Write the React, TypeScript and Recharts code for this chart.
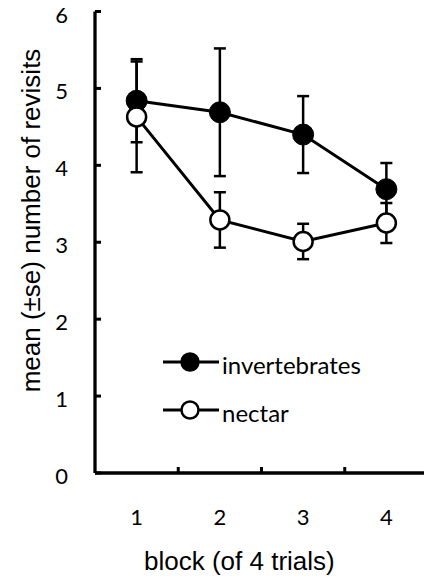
import { LineChart, Line, XAxis, YAxis, ErrorBar, Legend } from 'recharts';

// block number (x) and the two series
const blocks = [1, 2, 3, 4];
const invertebrates = [4.84, 4.69, 4.4, 3.69];
const invertebratesSe = [0.54, 0.83, 0.5, 0.34];
const nectar = [4.63, 3.29, 3.01, 3.25];
const nectarSe = [0.72, 0.36, 0.23, 0.26];

// integer ticks get a label, half ticks get a tick mark between blocks
const xTicks = [1, 1.5, 2, 2.5, 3, 3.5, 4];
const yTicks = [0, 1, 2, 3, 4, 5, 6];

const data = blocks.map((b, i) => ({
  block: b,
  invertebrates: invertebrates[i],
  invertebratesSe: invertebratesSe[i],
  nectar: nectar[i],
  nectarSe: nectarSe[i],
}));

const TICK_FONT = 'Lato, "Open Sans", sans-serif';
const TITLE_FONT = '"Liberation Sans", Arial, sans-serif';

const YTick = (props: any) => {
  const { x, y, payload } = props;
  return (
    <g>
      <line x1={x} x2={x + 6} y1={y} y2={y} stroke="#000" strokeWidth={3} />
      <text x={x - 27} y={y} dy="0.5em" textAnchor="end" fontSize={22} fontFamily={TICK_FONT} fill="#000">
        {payload.value}
      </text>
    </g>
  );
};

const XTick = (props: any) => {
  const { x, y, payload } = props;
  if (Number.isInteger(payload.value)) {
    return (
      <text x={x} y={y + 52} textAnchor="middle" fontSize={22} fontFamily={TICK_FONT} fill="#000">
        {payload.value}
      </text>
    );
  }
  return <line x1={x} x2={x} y1={y} y2={y - 6} stroke="#000" strokeWidth={3} />;
};

const LegendBox = () => {
  const rows = [
    { name: 'invertebrates', fill: '#000' },
    { name: 'nectar', fill: '#fff' },
  ];
  return (
    <svg width={260} height={90} style={{ display: 'block' }}>
      {rows.map((r, i) => {
        const cy = 22 + i * 48;
        return (
          <g key={r.name}>
            <line x1={13} x2={69} y1={cy} y2={cy} stroke="#000" strokeWidth={3} />
            <circle cx={40} cy={cy} r={8.5} fill={r.fill} stroke="#000" strokeWidth={2.5} />
            <text x={72} y={cy + 11.5} fontSize={24} fontFamily={TICK_FONT} fill="#000">
              {r.name}
            </text>
          </g>
        );
      })}
    </svg>
  );
};

export default function App() {
  return (
    <div style={{ position: 'absolute', left: 0, top: 0, width: 424, height: 579, overflow: 'hidden', background: '#fff' }}>
      <LineChart width={432} height={579} data={data} margin={{ top: 11.5, right: 4, bottom: 0, left: 0 }}>
        <XAxis
          dataKey="block"
          type="number"
          domain={[0.5, 4.5]}
          ticks={xTicks}
          allowDataOverflow
          height={106}
          tickSize={0}
          tickMargin={0}
          tickLine={false}
          axisLine={{ stroke: '#000', strokeWidth: 3.3 }}
          tick={<XTick />}
          interval={0}
        />
        <YAxis
          type="number"
          domain={[0, 6]}
          ticks={yTicks}
          width={95}
          tickSize={0}
          tickMargin={0}
          tickLine={false}
          axisLine={{ stroke: '#000', strokeWidth: 3.3 }}
          tick={<YTick />}
          interval={0}
        />
        <Legend
          layout="vertical"
          align="center"
          verticalAlign="middle"
          content={<LegendBox />}
          wrapperStyle={{ position: 'absolute', left: 150, top: 340, width: 260 }}
        />
        <Line
          dataKey="invertebrates"
          type="linear"
          stroke="#000"
          strokeWidth={3}
          dot={{ r: 10.5, fill: '#000', stroke: '#000', strokeWidth: 1 }}
          isAnimationActive={false}
        >
          <ErrorBar dataKey="invertebratesSe" direction="y" width={6} stroke="#000" strokeWidth={2.5} />
        </Line>
        <Line
          dataKey="nectar"
          type="linear"
          stroke="#000"
          strokeWidth={3}
          dot={{ r: 9.5, fill: '#fff', stroke: '#000', strokeWidth: 2.5 }}
          isAnimationActive={false}
        >
          <ErrorBar dataKey="nectarSe" direction="y" width={6} stroke="#000" strokeWidth={2.5} />
        </Line>
        <text x={144} y={570} fontSize={26} fontFamily={TITLE_FONT} fill="#000" textAnchor="start">
          block (of 4 trials)
        </text>
        <text
          transform="translate(40,220.5) rotate(-90)"
          fontSize={26}
          fontFamily={TITLE_FONT}
          fill="#000"
          textAnchor="middle"
        >
          mean (±se) number of revisits
        </text>
      </LineChart>
    </div>
  );
}
